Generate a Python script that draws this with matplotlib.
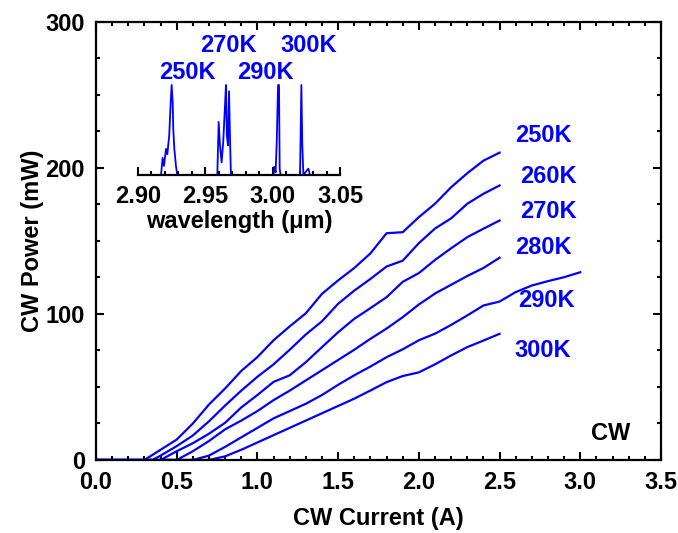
import matplotlib
matplotlib.use("Agg")
import matplotlib.pyplot as plt
from matplotlib.ticker import MultipleLocator

plt.rcParams['font.family'] = ['Liberation Sans', 'DejaVu Sans']
plt.rcParams['font.weight'] = 'bold'
plt.rcParams['axes.labelweight'] = 'bold'
plt.rcParams['font.size'] = 17

BLUE = "#0000ff"

# L-I curves: current (A) / CW power (mW)
cur_250 = [0.0, 0.3, 0.4, 0.5, 0.6, 0.7, 0.8, 0.9, 1.0, 1.1, 1.2, 1.3, 1.4, 1.5, 1.6, 1.7,
           1.8, 1.9, 2.0, 2.1, 2.2, 2.3, 2.4, 2.5]
pow_250 = [0, 0, 7, 14, 25, 38, 49, 61, 70.5, 82, 91.5, 100.5, 113.8, 123, 131.5, 141.5,
           155.3, 156, 166.3, 175.5, 186.8, 196.4, 205, 210.5]

cur_260 = [0.0, 0.35, 0.4, 0.5, 0.6, 0.7, 0.8, 0.9, 1.0, 1.1, 1.2, 1.3, 1.4, 1.5, 1.6, 1.7,
           1.8, 1.9, 2.0, 2.1, 2.2, 2.3, 2.4, 2.5]
pow_260 = [0, 0, 3, 9.5, 16.8, 26.5, 37.3, 47.5, 57, 65.5, 75.5, 86, 95, 107, 116, 124,
           132.5, 136.5, 148.5, 158.5, 165.5, 175.5, 182.3, 188]

cur_270 = [0.0, 0.4, 0.5, 0.6, 0.7, 0.8, 0.9, 1.0, 1.1, 1.2, 1.3, 1.4, 1.5, 1.6, 1.7,
           1.8, 1.9, 2.0, 2.1, 2.2, 2.3, 2.4, 2.5]
pow_270 = [0, 0, 6, 11.5, 18, 25.5, 36, 44.5, 53.5, 58, 67, 77.3, 87.5, 96.7, 104,
           111.5, 122, 128, 137, 145, 152.6, 158.4, 164]

cur_280 = [0.0, 0.5, 0.6, 0.7, 0.8, 0.9, 1.0, 1.1, 1.2, 1.3, 1.4, 1.5, 1.6, 1.7,
           1.8, 1.9, 2.0, 2.1, 2.2, 2.3, 2.4, 2.5]
pow_280 = [0, 0, 6, 13, 21, 27, 33.5, 41, 47.5, 54.5, 61.5, 68.5, 75.5, 83,
           90, 97.8, 106.5, 114, 120, 126, 131.5, 138.5]

cur_290 = [0.0, 0.6, 0.7, 0.8, 0.9, 1.0, 1.1, 1.2, 1.3, 1.4, 1.5, 1.6, 1.7, 1.8, 1.9,
           2.0, 2.1, 2.2, 2.3, 2.4, 2.5, 2.6, 2.7, 2.8, 2.9, 3.0]
pow_290 = [0, 0, 3, 9, 15.5, 22, 28.5, 33.5, 38.5, 44.5, 51.5, 58, 64, 70.4, 75.8,
           82, 86.5, 92.5, 99, 105.8, 108.5, 115, 119.5, 122.5, 125.2, 128.6]

cur_300 = [0.0, 0.7, 0.8, 0.9, 1.0, 1.1, 1.2, 1.3, 1.4, 1.5, 1.6, 1.7, 1.8, 1.9,
           2.0, 2.1, 2.2, 2.3, 2.4, 2.5]
pow_300 = [0, 0, 2.5, 7, 12, 17, 22, 27, 32, 37, 42, 47.6, 53.3, 57.5,
           60, 65.5, 71.6, 77.3, 81.8, 86.4]

temps = ["250K", "260K", "270K", "280K", "290K", "300K"]
label_x = [2.77, 2.80, 2.80, 2.77, 2.79, 2.77]
label_y = [222, 194, 170, 145.5, 109, 75]

# inset spectra: wavelength (um) / normalised intensity
wl_250 = [2.9171, 2.9183, 2.9193, 2.9208, 2.9218, 2.9232, 2.9243, 2.9250, 2.9258,
          2.9262, 2.9270, 2.9282, 2.9292]
sp_250 = [0, 0.19, 0.10, 0.29, 0.23, 0.44, 0.81, 1.0, 0.80, 0.51, 0.29, 0.10, 0]
wl_270 = [2.9589, 2.9599, 2.9609, 2.9621, 2.9633, 2.9646, 2.9653, 2.9660, 2.9668,
          2.9676, 2.9683, 2.9690]
sp_270 = [0, 0.59, 0.33, 0.14, 0.37, 0.77, 1.0, 0.44, 0.33, 0.93, 0.43, 0]
wl_290 = [3.0005, 3.0012, 3.0022, 3.0030, 3.0040, 3.0047, 3.0052, 3.0059]
sp_290 = [0, 0.09, 0.03, 0.36, 1.0, 1.0, 0.07, 0]
wl_300 = [3.0203, 3.0213, 3.0220, 3.0228, 3.0253, 3.0265, 3.0277]
sp_300 = [0, 1.0, 0.33, 0, 0.05, 0.07, 0]

inset_temps = ["250K", "270K", "290K", "300K"]
inset_lx = [2.9364, 2.9668, 2.995, 3.027]
inset_ly = [1.144, 1.444, 1.144, 1.444]


fig = plt.figure(figsize=(6.78, 5.33), dpi=100)
ax = fig.add_axes([0.1416, 0.137, 0.8333, 0.8218])

curves = [(cur_250, pow_250), (cur_260, pow_260), (cur_270, pow_270),
          (cur_280, pow_280), (cur_290, pow_290), (cur_300, pow_300)]
for c, p in curves:
    ax.plot(c, p, color=BLUE, linewidth=1.6)

for t, x, y in zip(temps, label_x, label_y):
    ax.text(x, y, t, color=BLUE, ha="center", va="center", fontsize=17, fontweight="bold")
ax.text(3.19, 18, "CW", color="black", ha="center", va="center", fontsize=17, fontweight="bold")

ax.set_xlim(0, 3.5)
ax.set_ylim(0, 300)
ax.xaxis.set_major_locator(MultipleLocator(0.5))
ax.xaxis.set_minor_locator(MultipleLocator(0.1))
ax.yaxis.set_major_locator(MultipleLocator(100))
ax.yaxis.set_minor_locator(MultipleLocator(25))
ax.xaxis.set_major_formatter(lambda v, pos: f"{v:.1f}")
ax.tick_params(which="both", direction="in", top=True, right=True, width=1.5)
ax.tick_params(which="major", length=6, pad=8)
ax.tick_params(which="minor", length=3)
for s in ax.spines.values():
    s.set_linewidth(1.6)
ax.set_xlabel("CW Current (A)", labelpad=9)
ax.set_ylabel("CW Power (mW)", labelpad=1)

# inset spectrum
ins = fig.add_axes([0.2035, 0.6717, 0.298, 0.2627], facecolor="none")
for wl, sp in [(wl_250, sp_250), (wl_270, sp_270), (wl_290, sp_290), (wl_300, sp_300)]:
    ins.plot(wl, sp, color=BLUE, linewidth=1.3)
for t, x, y in zip(inset_temps, inset_lx, inset_ly):
    ins.text(x, y, t, color=BLUE, ha="center", va="center", fontsize=17, fontweight="bold")
ins.set_xlim(2.90, 3.05)
ins.set_ylim(0, 1.556)
for side in ["top", "left", "right"]:
    ins.spines[side].set_visible(False)
ins.spines["bottom"].set_linewidth(1.6)
ins.set_yticks([])
ins.xaxis.set_major_locator(MultipleLocator(0.05))
ins.xaxis.set_minor_locator(MultipleLocator(0.01))
ins.xaxis.set_major_formatter(lambda v, pos: f"{v:.2f}")
ins.tick_params(which="both", direction="in", width=1.5)
ins.tick_params(which="major", length=6, pad=7)
ins.tick_params(which="minor", length=3)
ins.set_xlabel("wavelength (\u03bcm)", labelpad=2)

fig.savefig("out.png", dpi=100)
